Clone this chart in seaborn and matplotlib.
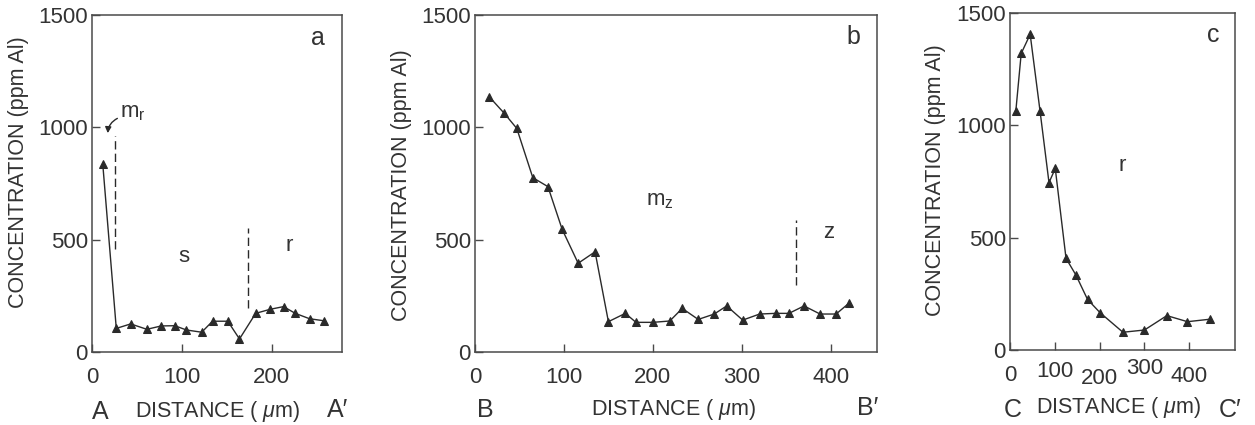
import numpy as np
import pandas as pd
import matplotlib
matplotlib.use("Agg")
import matplotlib.pyplot as plt
import matplotlib.transforms as mtransforms
import seaborn as sns

# ---------------- data ----------------
a_x = [12, 27, 43, 61, 77, 92, 105, 122, 134, 151, 164, 182, 198, 213, 226, 242, 258]
a_y = [835, 105, 125, 101, 116, 117, 98, 88, 137, 137, 58, 172, 190, 202, 172, 148, 139]

b_x = [16, 33, 47, 65, 82, 98, 116, 135, 150, 169, 181, 200, 219, 233, 251, 269,
       283, 301, 320, 338, 353, 370, 388, 406, 421]
b_y = [1136, 1062, 995, 776, 736, 546, 395, 446, 135, 172, 132, 132, 138, 194, 145,
       169, 205, 142, 169, 172, 172, 205, 169, 169, 219]

c_x = [13, 25, 45, 67, 87, 101, 125, 147, 173, 201, 252, 300, 350, 396, 446]
c_y = [1064, 1320, 1405, 1064, 745, 808, 408, 334, 225, 166, 79, 89, 153, 126, 137]

y_ticks = [0, 500, 1000, 1500]
a_xticks = [0, 100, 200]
b_xticks = [0, 100, 200, 300, 400]
c_xticks = [0, 100, 200, 300, 400]

# zone boundaries (x, y_low, y_high)
a_bounds = [(26, 460, 960), (173, 195, 552)]
b_bounds = [(361, 298, 587)]

ylabel = "CONCENTRATION (ppm Al)"
xlabel = "DISTANCE ( $\\mathit{\\mu}$m)"

# ---------------- style ----------------
sns.set_style("ticks")
plt.rcParams["font.family"] = ["Liberation Sans", "DejaVu Sans"]
plt.rcParams["mathtext.fontset"] = "custom"
plt.rcParams["mathtext.rm"] = "Liberation Sans"
plt.rcParams["mathtext.it"] = "Liberation Sans:italic"

W, H = 1255, 425
fig = plt.figure(figsize=(W / 100, H / 100), dpi=100)

def px_rect(l, r, b, t):
    return [l / W, (H - b) / H, (r - l) / W, (b - t) / H]

ax_a = fig.add_axes(px_rect(92, 342, 352, 15))
ax_b = fig.add_axes(px_rect(475, 877, 352, 15))
ax_c = fig.add_axes(px_rect(1010, 1235, 350, 13))

line_col = "#2a2a2a"
spine_col = "#4a4a4a"

def draw(ax, xs, ys, xmax, xticks):
    df = pd.DataFrame({"x": xs, "y": ys})
    sns.lineplot(data=df, x="x", y="y", ax=ax, sort=False, estimator=None,
                 color=line_col, lw=1.0, marker="^", markersize=5.5,
                 markeredgecolor=line_col, markerfacecolor=line_col)
    ax.set_xlim(0, xmax)
    ax.set_ylim(0, 1500)
    ax.set_xticks(xticks)
    ax.set_yticks(y_ticks)
    ax.set_xlabel("")
    ax.set_ylabel("")
    for s in ax.spines.values():
        s.set_visible(True)
        s.set_color(spine_col)
        s.set_linewidth(1.1)
    ax.tick_params(axis="both", direction="in", length=6, width=1.0,
                   color=spine_col, labelsize=16, labelcolor="#333333")
    ax.tick_params(axis="x", pad=11)
    ax.tick_params(axis="y", pad=3)

draw(ax_a, a_x, a_y, 278, a_xticks)
draw(ax_b, b_x, b_y, 452, b_xticks)
draw(ax_c, c_x, c_y, 502, c_xticks)

dash_kw = dict(color=line_col, lw=1.0, linestyles=(0, (6, 3)))
for x, y0, y1 in a_bounds:
    ax_a.vlines(x, y0, y1, **dash_kw)
for x, y0, y1 in b_bounds:
    ax_b.vlines(x, y0, y1, **dash_kw)

# staggered tick labels in panel c
fig.canvas.draw()
c_offsets_px = [0, 4, -3, 7, -1]
for lab, off in zip(ax_c.get_xticklabels(), c_offsets_px):
    lab.set_transform(lab.get_transform() +
                      mtransforms.ScaledTranslation(0, off / 100, fig.dpi_scale_trans))

txt_col = "#333333"
# panel annotations
ax_a.text(251, 1397, "a", fontsize=18, color=txt_col, ha="center", va="center")
ax_b.text(425, 1402, "b", fontsize=18, color=txt_col, ha="center", va="center")
ax_c.text(453, 1402, "c", fontsize=18, color=txt_col, ha="center", va="center")

ax_a.text(45, 1065, "m$_\\mathrm{r}$", fontsize=16, color=txt_col, ha="center", va="center")
ax_a.annotate("", xy=(17.5, 962), xytext=(31, 1045),
              arrowprops=dict(arrowstyle="-|>,head_length=0.35,head_width=0.18",
                              color=line_col, lw=1.0,
                              connectionstyle="arc3,rad=0.35"))
ax_a.text(102, 423, "s", fontsize=16, color=txt_col, ha="center", va="center")
ax_a.text(219, 476, "r", fontsize=16, color=txt_col, ha="center", va="center")

ax_b.text(208, 676, "m$_\\mathrm{z}$", fontsize=16, color=txt_col, ha="center", va="center")
ax_b.text(398, 530, "z", fontsize=16, color=txt_col, ha="center", va="center")

ax_c.text(250, 823, "r", fontsize=16, color=txt_col, ha="center", va="center")

def ftext(x, y, s, **kw):
    fig.text(x / W, 1 - y / H, s, color=txt_col, ha="center", va="center", **kw)

# y labels
ftext(19, 172, ylabel, fontsize=15.5, rotation=90)
ftext(401, 185, ylabel, fontsize=15.5, rotation=90)
ftext(935, 180, ylabel, fontsize=15.5, rotation=90)

# x labels and section end-letters
ftext(100, 412, "A", fontsize=18)
ftext(218, 412, xlabel, fontsize=15.5)
ftext(338, 410, "A\u2032", fontsize=18)

ftext(485, 410, "B", fontsize=18)
ftext(674, 410, xlabel, fontsize=15.5)
ftext(868, 408, "B\u2032", fontsize=18)

ftext(1013, 410, "C", fontsize=18)
ftext(1119, 408, xlabel, fontsize=15.5)
ftext(1230, 410, "C\u2032", fontsize=18)

fig.savefig("out.png", dpi=100)
